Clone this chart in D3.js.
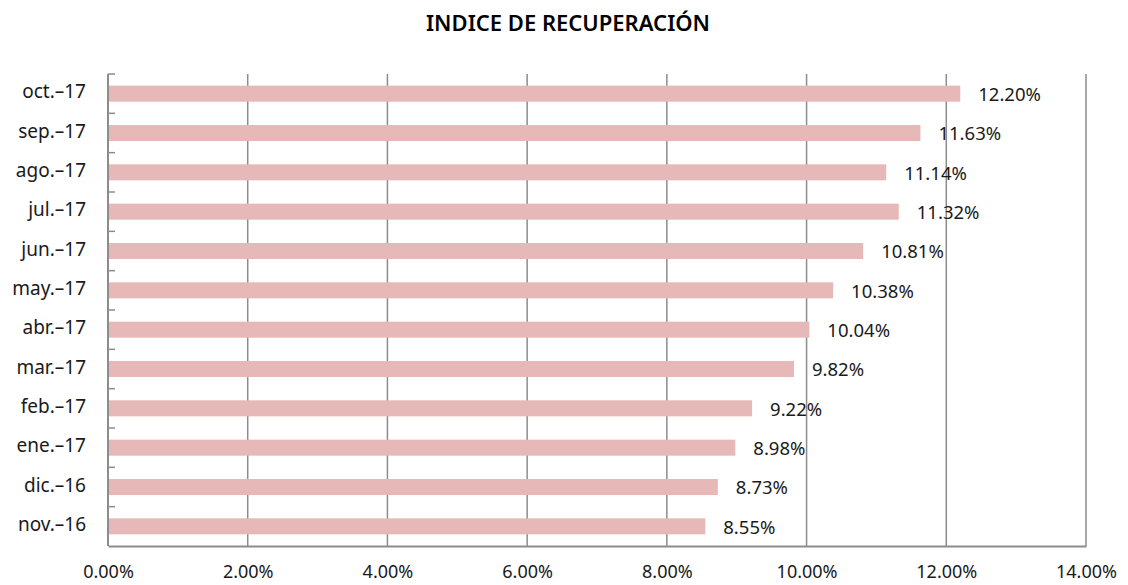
<!DOCTYPE html>
<html>
<head>
<meta charset="utf-8">
<script src="https://cdn.jsdelivr.net/npm/d3@7"></script>
<style>
  body { margin: 0; background: #fff; overflow: hidden; }
  svg { display: block; }
  text { font-family: "Noto Sans", sans-serif; fill: #1a1a1a; }
</style>
</head>
<body>
<script>
// months listed top to bottom
const months = ['oct.–17', 'sep.–17', 'ago.–17', 'jul.–17', 'jun.–17', 'may.–17',
                'abr.–17', 'mar.–17', 'feb.–17', 'ene.–17', 'dic.–16', 'nov.–16'];
const values = [12.20, 11.63, 11.14, 11.32, 10.81, 10.38, 10.04, 9.82, 9.22, 8.98, 8.73, 8.55];
const xTicks = [0, 2, 4, 6, 8, 10, 12, 14];

const outerWidth = 1128;
const outerHeight = 585;
const margin = { left: 108, top: 74, right: 42, bottom: 39 };
const innerWidth = outerWidth - margin.left - margin.right;
const innerHeight = outerHeight - margin.top - margin.bottom;

const data = months.map((m, i) => ({ month: m, value: values[i] }));

const svg = d3.select('body').append('svg')
  .attr('width', outerWidth)
  .attr('height', outerHeight);

svg.append('text')
  .attr('x', 568)
  .attr('y', 31)
  .attr('text-anchor', 'middle')
  .style('font-size', '22px')
  .style('font-weight', '600')
  .style('fill', '#000')
  .text('INDICE DE RECUPERACIÓN');

const g = svg.append('g')
  .attr('transform', `translate(${margin.left},${margin.top})`);

const xScale = d3.scaleLinear().domain([0, 14]).range([0, innerWidth]);
const band = d3.scaleBand().domain(months).range([0, innerHeight]);

// vertical gridlines
g.selectAll('.grid')
  .data(xTicks.filter(d => d > 0))
  .join('line')
    .attr('x1', d => xScale(d))
    .attr('x2', d => xScale(d))
    .attr('y1', 0)
    .attr('y2', innerHeight)
    .attr('stroke', '#8c8c8c')
    .attr('stroke-width', 1.5);

// bars
g.selectAll('rect')
  .data(data)
  .join('rect')
    .attr('x', xScale(0))
    .attr('y', d => band(d.month) + band.bandwidth() / 2 - 8)
    .attr('width', d => xScale(d.value) - xScale(0))
    .attr('height', 16)
    .attr('fill', '#e6b8b7');

// value labels
g.selectAll('.val')
  .data(data)
  .join('text')
    .attr('x', d => xScale(d.value) + 18)
    .attr('y', d => band(d.month) + band.bandwidth() / 2 + 1)
    .attr('dy', '0.35em')
    .style('font-size', '18.5px')
    .text(d => d.value.toFixed(2) + '%');

// x axis
const xAxis = d3.axisBottom(xScale)
  .tickValues(xTicks)
  .tickSize(0)
  .tickPadding(19)
  .tickFormat(d => d.toFixed(2) + '%');
const xAxisG = g.append('g')
  .attr('transform', `translate(0,${innerHeight})`)
  .call(xAxis);
xAxisG.select('.domain').attr('stroke', '#8c8c8c').attr('stroke-width', 2);
xAxisG.selectAll('text')
  .style('font-size', '18px')
  .style('fill', '#1a1a1a');

// y axis: ticks at band boundaries, pointing inward
g.append('line')
  .attr('x1', 0).attr('x2', 0)
  .attr('y1', 0).attr('y2', innerHeight)
  .attr('stroke', '#8c8c8c')
  .attr('stroke-width', 2);

g.selectAll('.ytick')
  .data(months)
  .join('line')
    .attr('x1', 0)
    .attr('x2', 7)
    .attr('y1', d => band(d))
    .attr('y2', d => band(d))
    .attr('stroke', '#8c8c8c')
    .attr('stroke-width', 1.5);

g.selectAll('.ylab')
  .data(months)
  .join('text')
    .attr('x', -22)
    .attr('y', d => band(d) + band.bandwidth() / 2 - 2)
    .attr('dy', '0.35em')
    .attr('text-anchor', 'end')
    .style('font-size', '19px')
    .text(d => d);
</script>
</body>
</html>
